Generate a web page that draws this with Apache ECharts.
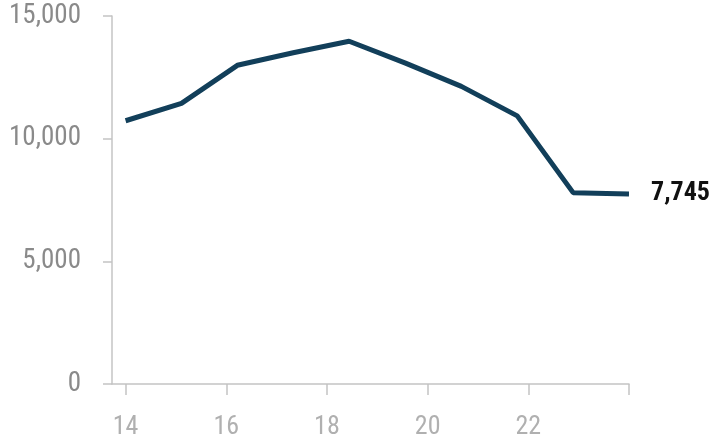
<!DOCTYPE html>
<html>
<head>
<meta charset="utf-8">
<script src="https://cdn.jsdelivr.net/npm/echarts@6/dist/echarts.min.js"></script>
<style>
  html, body { margin: 0; padding: 0; background: #fff; }
  #chart { width: 714px; height: 440px; }
</style>
</head>
<body>
<div id="chart"></div>
<script>
// x positions (two-digit years)
var years = [14, 15.11, 16.22, 17.33, 18.44, 19.56, 20.67, 21.78, 22.89, 24];
var counts = [10730, 11440, 12990, 13500, 13970, 13080, 12130, 10930, 7800, 7745];
var xTicks = [14, 16, 18, 20, 22, 24];
var xLabels = [14, 16, 18, 20, 22];

var points = years.map(function (y, i) { return [y, counts[i]]; });
var font = "'Liberation Sans Narrow', 'Roboto Condensed', Roboto";

var myChart = echarts.init(document.getElementById('chart'));
myChart.setOption({
    animation: false,
    grid: { left: 112, right: 85, top: 16, bottom: 53 },
    xAxis: {
        type: 'value',
        min: 13.73,
        max: 24,
        splitLine: { show: false },
        axisLine: { lineStyle: { color: '#c4c4c4', width: 1.5 } },
        axisTick: {
            show: true,
            length: 11,
            customValues: xTicks,
            lineStyle: { color: '#c4c4c4', width: 1.5 }
        },
        axisLabel: {
            customValues: xLabels,
            margin: 30,
            color: '#b0b0b0',
            fontSize: 26,
            fontFamily: font
        }
    },
    yAxis: {
        type: 'value',
        min: 0,
        max: 15000,
        interval: 5000,
        splitLine: { show: false },
        axisLine: { show: true, lineStyle: { color: '#c4c4c4', width: 1.5 } },
        axisTick: { show: true, length: 9, lineStyle: { color: '#c4c4c4', width: 1.5 } },
        axisLabel: {
            margin: 31,
            color: '#8a8a8a',
            fontSize: 27,
            fontFamily: font,
            formatter: function (v) { return v.toLocaleString('en-US'); }
        }
    },
    series: [{
        type: 'line',
        data: points,
        symbol: 'none',
        lineStyle: { color: '#123f5a', width: 5 },
        endLabel: {
            show: true,
            distance: 22,
            color: '#111',
            fontSize: 26,
            fontWeight: 'bold',
            fontFamily: font,
            formatter: function (p) { return p.value[1].toLocaleString('en-US'); }
        }
    }]
});
</script>
</body>
</html>
